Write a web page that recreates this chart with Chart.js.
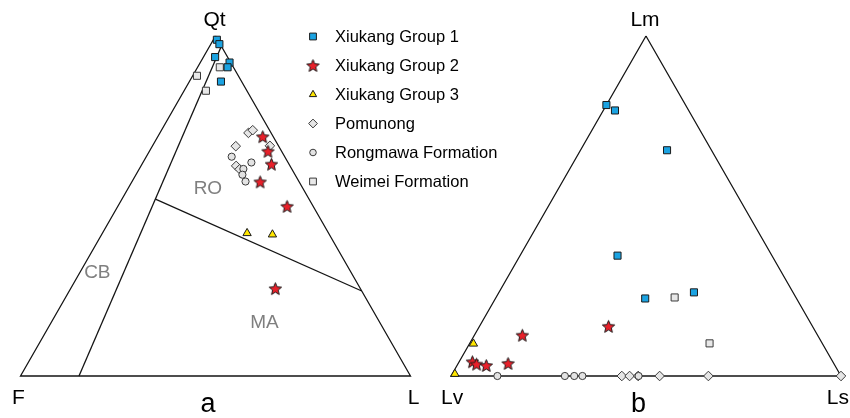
<!DOCTYPE html>
<html>
<head>
<meta charset="utf-8">
<script src="https://cdn.jsdelivr.net/npm/chart.js@4/dist/chart.umd.min.js"></script>
<style>
  html, body { margin: 0; padding: 0; background: #fff; }
  #wrap { width: 850px; height: 418px; position: relative; }
</style>
</head>
<body>
<div id="wrap"><canvas id="c" width="850" height="418"></canvas></div>
<script>
// Apex labels of the two ternary diagrams: [top, bottom-left, bottom-right]
const qflApices = ['Qt', 'F', 'L'];
const lithicApices = ['Lm', 'Lv', 'Ls'];
const panelLetters = ['a', 'b'];

const seriesNames = [
  'Xiukang Group 1',
  'Xiukang Group 2',
  'Xiukang Group 3',
  'Pomunong',
  'Rongmawa Formation',
  'Weimei Formation'
];

// Qt–F–L compositions, % [Qt, F, L]
const group1QFL = [[98.9, 0.2, 0.9], [97.6, 0.2, 2.2], [93.8, 3.2, 3.0], [92.2, 0.3, 7.5], [90.8, 1.5, 7.7], [86.6, 5.3, 8.1]];
const group2QFL = [[70.4, 2.7, 26.9], [66.1, 3.5, 30.4], [62.3, 4.5, 33.2], [57.1, 10.0, 32.9], [49.9, 6.7, 43.4], [25.7, 21.8, 52.5]];
const group3QFL = [[42.0, 20.9, 37.1], [41.6, 14.6, 43.8]];
const pomunongQFL = [[71.5, 5.8, 22.7], [72.3, 4.3, 23.4], [67.7, 2.2, 30.1], [67.6, 11.0, 21.4], [61.8, 13.8, 24.4], [60.8, 13.4, 25.8]];
const rongmawaQFL = [[64.5, 13.6, 21.9], [62.8, 9.4, 27.8], [60.9, 12.4, 26.7], [59.2, 13.5, 27.3], [57.2, 13.7, 29.1]];
const weimeiQFL = [[90.8, 3.5, 5.7], [88.3, 10.6, 1.1], [83.9, 10.5, 5.6]];

// Lm–Lv–Ls lithic fragment compositions, % [Lm, Lv, Ls]
const group1Lith = [[79.7, 20.3, 0.0], [78.1, 18.9, 3.0], [66.4, 11.4, 22.2], [35.4, 39.6, 25.0], [22.8, 38.8, 38.4], [24.6, 25.4, 50.0]];
const group2Lith = [[14.6, 52.3, 33.1], [12.0, 75.7, 12.3], [4.2, 92.4, 3.4], [3.5, 91.7, 4.8], [3.1, 89.4, 7.5], [3.7, 83.5, 12.8]];
const group3Lith = [[9.5, 89.5, 1.0], [0.6, 98.7, 0.7]];
const pomunongLith = [[0, 56.2, 43.8], [0, 54.2, 45.8], [0, 52.0, 48.0], [0, 46.5, 53.5], [0, 34.0, 66.0], [0, 0, 100]];
const rongmawaLith = [[0, 88.1, 11.9], [0, 70.8, 29.2], [0, 68.4, 31.6], [0, 66.3, 33.7], [0, 51.9, 48.1]];
const weimeiLith = [[23.1, 31.1, 45.8], [9.6, 28.9, 61.5]];

// Provenance field boundaries of the QFL diagram, % [Qt, F, L]
const cbBoundary = [[97, 0, 3], [0, 85, 15]];
const maBoundary = [[52, 39.4, 8.6], [25, 0, 75]];
const fieldNames = ['CB', 'RO', 'MA'];
const fieldCentres = [[30.6, 65.0, 4.4], [55.3, 24.3, 20.4], [15.9, 29.5, 54.6]];

// ---- geometry: each triangle has unit base; panel b sits to the right ----
const H = Math.sqrt(3) / 2;
const PANEL_B = 1.1038;
const triangleCorners = [[100, 0, 0], [0, 100, 0], [0, 0, 100], [100, 0, 0]];

function toXY(c, offset) {
  const s = c[0] + c[1] + c[2];
  const top = c[0] / s, right = c[2] / s;
  return { x: offset + right + top / 2, y: top * H };
}
const panelA = arr => arr.map(c => toXY(c, 0));
const panelB = arr => arr.map(c => toXY(c, PANEL_B));

// filled five-pointed star used as a point style
function makeStar(R) {
  const r = R * 0.45;
  const size = Math.ceil(2 * R + 4);
  const cv = document.createElement('canvas');
  cv.width = cv.height = size;
  const g = cv.getContext('2d');
  g.translate(size / 2, size / 2 + R * 0.095);
  g.beginPath();
  for (let k = 0; k < 10; k++) {
    const rad = k % 2 ? r : R;
    const a = -Math.PI / 2 + k * Math.PI / 5;
    g.lineTo(rad * Math.cos(a), rad * Math.sin(a));
  }
  g.closePath();
  g.fillStyle = '#e8202a';
  g.fill();
  g.lineWidth = 1;
  g.strokeStyle = '#1a1a1a';
  g.stroke();
  return cv;
}
const starPoint = makeStar(6.5);

const seriesStyles = [
  { pointStyle: 'rect', radius: 5, legendRadius: 4.8, bg: '#1ba3e2', border: '#1a1a1a' },
  { pointStyle: starPoint, radius: 6, legendRadius: 6, bg: '#e8202a', border: '#1a1a1a' },
  { pointStyle: 'triangle', radius: 4.8, legendRadius: 4.2, bg: '#ffe600', border: '#1a1a1a' },
  { pointStyle: 'rectRot', radius: 4.8, legendRadius: 4.4, bg: '#e6e6e6', border: '#3a3a3a' },
  { pointStyle: 'circle', radius: 3.6, legendRadius: 3.3, bg: '#e3e3e3', border: '#3a3a3a' },
  { pointStyle: 'rect', radius: 5, legendRadius: 4.8, bg: '#e8e8e8', border: '#3a3a3a' }
];

const seriesData = [
  panelA(group1QFL).concat(panelB(group1Lith)),
  panelA(group2QFL).concat(panelB(group2Lith)),
  panelA(group3QFL).concat(panelB(group3Lith)),
  panelA(pomunongQFL).concat(panelB(pomunongLith)),
  panelA(rongmawaQFL).concat(panelB(rongmawaLith)),
  panelA(weimeiQFL).concat(panelB(weimeiLith))
];
// drawing order: lower number ends up on top
const seriesOrder = [1, 2, 3, 5, 4, 6];

function lineSet(points) {
  return {
    type: 'line', data: points, showLine: true, fill: false,
    borderColor: '#141414', borderWidth: 1.3, pointRadius: 0,
    tension: 0, order: 20
  };
}

const datasets = [
  lineSet(panelA(triangleCorners)),
  lineSet(panelB(triangleCorners)),
  lineSet(panelA(cbBoundary)),
  lineSet(panelA(maBoundary))
];
seriesNames.forEach((name, i) => {
  const st = seriesStyles[i];
  datasets.push({
    label: name,
    data: seriesData[i],
    pointStyle: st.pointStyle,
    pointRadius: st.radius,
    pointBackgroundColor: st.bg,
    pointBorderColor: st.border,
    pointBorderWidth: 1,
    showLine: false,
    order: seriesOrder[i]
  });
});

const FONT = "'Liberation Sans', Arial, Helvetica, sans-serif";

const annotations = {
  id: 'annotations',
  afterDraw(chart) {
    const ctx = chart.ctx;
    const xs = chart.scales.x, ys = chart.scales.y;
    const px = p => ({ x: xs.getPixelForValue(p.x), y: ys.getPixelForValue(p.y) });
    ctx.save();

    // apex labels
    ctx.fillStyle = '#000';
    ctx.textBaseline = 'alphabetic';
    ctx.font = '21px ' + FONT;
    [[qflApices, 0], [lithicApices, PANEL_B]].forEach(([names, off]) => {
      const top = px(toXY([100, 0, 0], off));
      const left = px(toXY([0, 100, 0], off));
      const right = px(toXY([0, 0, 100], off));
      ctx.textAlign = 'center';
      ctx.fillText(names[0], top.x - 1, top.y - 10);
      ctx.textAlign = 'left';
      ctx.fillText(names[1], left.x - (off ? 10 : 8.5), left.y + 28);
      ctx.textAlign = 'right';
      ctx.fillText(names[2], right.x + (off ? 8 : 9), right.y + 28);
    });

    // panel letters
    ctx.font = '27px ' + FONT;
    ctx.textAlign = 'center';
    [0, PANEL_B].forEach((off, i) => {
      const base = px(toXY([0, 50, 50], off));
      ctx.fillText(panelLetters[i], base.x - 7.5, base.y + 36);
    });

    // provenance field names
    ctx.font = '19px ' + FONT;
    ctx.fillStyle = '#7f7f7f';
    ctx.textBaseline = 'middle';
    fieldNames.forEach((n, i) => {
      const p = px(toXY(fieldCentres[i], 0));
      ctx.fillText(n, p.x, p.y + 1);
    });

    // legend
    ctx.textAlign = 'left';
    ctx.font = '16.5px ' + FONT;
    seriesNames.forEach((n, i) => {
      const st = seriesStyles[i];
      const y = 36.5 + 29 * i;
      ctx.fillStyle = st.bg;
      ctx.strokeStyle = st.border;
      ctx.lineWidth = 1;
      Chart.helpers.drawPoint(ctx, { pointStyle: st.pointStyle, radius: st.legendRadius, borderWidth: 1, rotation: 0 }, 313, y);
      ctx.fillStyle = '#000';
      ctx.fillText(n, 335, y + 1);
    });
    ctx.restore();
  }
};

const X_UNIT = 390, Y_UNIT = 340 / H;
const xMin = -20.5 / X_UNIT;
const yMin = -42 / Y_UNIT;

new Chart(document.getElementById('c'), {
  type: 'scatter',
  data: { datasets },
  options: {
    responsive: false,
    animation: false,
    events: [],
    layout: { padding: 0, autoPadding: false },
    plugins: { legend: { display: false }, tooltip: { enabled: false } },
    scales: {
      x: { type: 'linear', display: false, min: xMin, max: xMin + 850 / X_UNIT },
      y: { type: 'linear', display: false, min: yMin, max: yMin + 418 / Y_UNIT }
    }
  },
  plugins: [annotations]
});
</script>
</body>
</html>
